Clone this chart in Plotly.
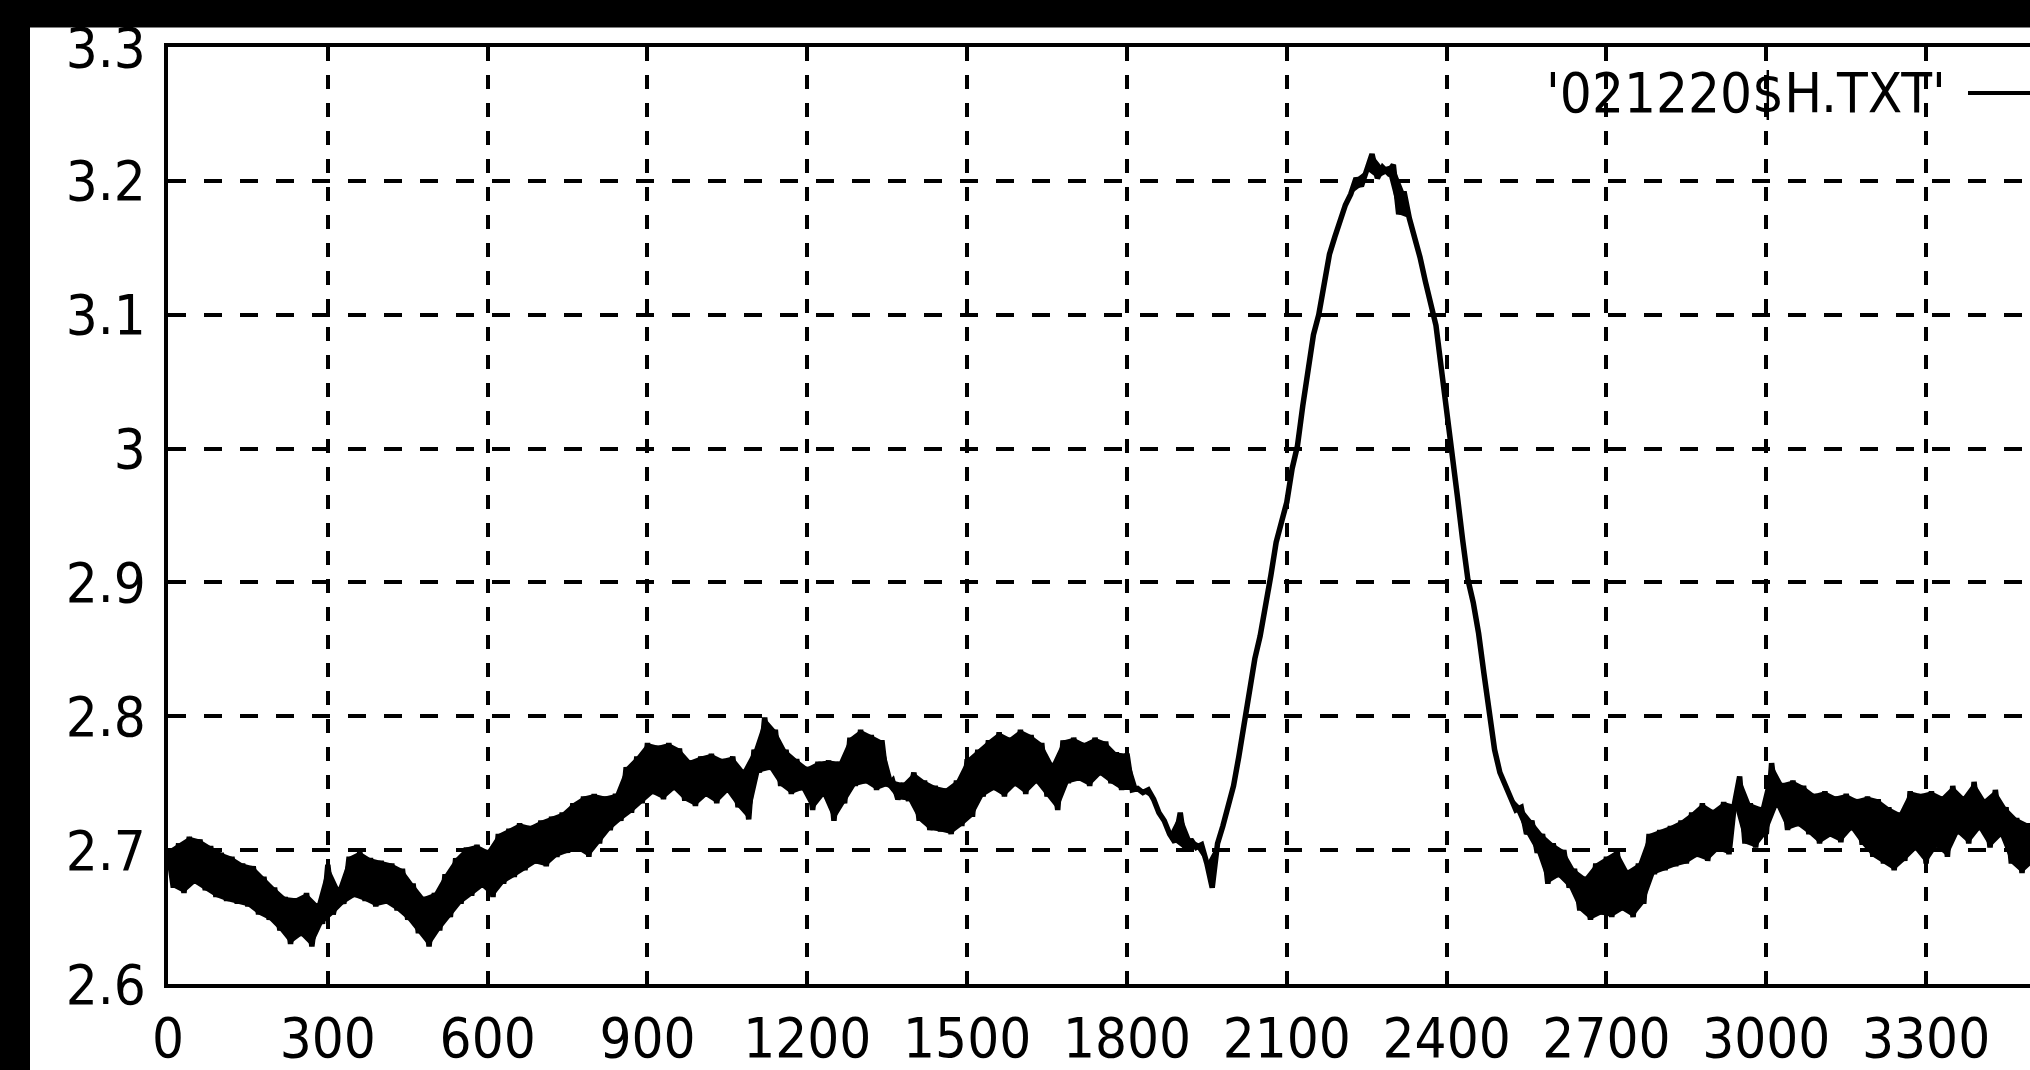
import plotly.graph_objects as go

# sample spacing of the recorded series (x units)
x_step = 10

# signal values, one per 10 x-units, starting at 0
y_values = [
    # 0-90
    2.700, 2.672, 2.705, 2.668, 2.710, 2.675, 2.708, 2.670, 2.703, 2.665,
    # 100-190
    2.698, 2.662, 2.695, 2.660, 2.690, 2.658, 2.688, 2.652, 2.680, 2.648,
    # 200-290
    2.672, 2.640, 2.665, 2.630, 2.664, 2.636, 2.668, 2.628, 2.660, 2.645,
    # 300-390
    2.689, 2.652, 2.672, 2.660, 2.695, 2.665, 2.699, 2.662, 2.694, 2.658,
    # 400-490
    2.692, 2.660, 2.690, 2.655, 2.686, 2.648, 2.675, 2.638, 2.665, 2.628,
    # 500-590
    2.668, 2.640, 2.682, 2.650, 2.694, 2.660, 2.702, 2.666, 2.704, 2.672,
    # 600-690
    2.700, 2.665, 2.712, 2.675, 2.716, 2.680, 2.720, 2.685, 2.718, 2.690,
    # 700-790
    2.722, 2.688, 2.725, 2.695, 2.728, 2.698, 2.735, 2.700, 2.740, 2.695,
    # 800-890
    2.742, 2.705, 2.740, 2.715, 2.742, 2.722, 2.762, 2.728, 2.770, 2.735,
    # 900-990
    2.780, 2.742, 2.778, 2.738, 2.780, 2.745, 2.776, 2.737, 2.767, 2.733,
    # 1000-1090
    2.770, 2.740, 2.772, 2.735, 2.768, 2.743, 2.770, 2.732, 2.760, 2.723,
    # 1100-1190
    2.775, 2.758, 2.799, 2.760, 2.790, 2.748, 2.775, 2.742, 2.768, 2.745,
    # 1200-1290
    2.762, 2.730, 2.766, 2.740, 2.767, 2.722, 2.766, 2.735, 2.784, 2.748,
    # 1300-1390
    2.790, 2.750, 2.786, 2.745, 2.782, 2.748, 2.752, 2.738, 2.750, 2.737,
    # 1400-1490
    2.758, 2.722, 2.752, 2.715, 2.748, 2.714, 2.746, 2.712, 2.752, 2.718,
    # 1500-1590
    2.768, 2.725, 2.775, 2.740, 2.782, 2.745, 2.788, 2.740, 2.784, 2.748,
    # 1600-1690
    2.790, 2.742, 2.786, 2.750, 2.780, 2.740, 2.765, 2.730, 2.782, 2.750,
    # 1700-1790
    2.784, 2.752, 2.780, 2.748, 2.784, 2.756, 2.781, 2.750, 2.773, 2.745,
    # 1800-1890
    2.772, 2.745, 2.746, 2.743, 2.745, 2.738, 2.728, 2.722, 2.712, 2.706,
    # 1900-1990
    2.728, 2.700, 2.708, 2.702, 2.704, 2.690, 2.672, 2.705, 2.718, 2.735,
    # 2000-2090
    2.748, 2.770, 2.795, 2.822, 2.843, 2.860, 2.880, 2.905, 2.930, 2.945,
    # 2100-2190
    2.960, 2.985, 3.002, 3.032, 3.060, 3.085, 3.100, 3.122, 3.145, 3.158,
    # 2200-2290
    3.170, 3.182, 3.190, 3.202, 3.196, 3.208, 3.220, 3.202, 3.210, 3.206,
    # 2300-2390
    3.212, 3.175, 3.192, 3.172, 3.158, 3.143, 3.125, 3.108, 3.092, 3.060,
    # 2400-2490
    3.030, 2.998, 2.965, 2.932, 2.902, 2.885, 2.862, 2.832, 2.802, 2.775,
    # 2500-2590
    2.758, 2.748, 2.740, 2.730, 2.732, 2.712, 2.722, 2.698, 2.712, 2.675,
    # 2600-2690
    2.705, 2.680, 2.700, 2.672, 2.686, 2.655, 2.680, 2.648, 2.690, 2.652,
    # 2700-2790
    2.695, 2.650, 2.700, 2.655, 2.685, 2.650, 2.690, 2.660, 2.712, 2.682,
    # 2800-2890
    2.715, 2.685, 2.718, 2.688, 2.722, 2.690, 2.728, 2.695, 2.735, 2.692,
    # 2900-2990
    2.730, 2.700, 2.736, 2.697, 2.734, 2.755, 2.705, 2.735, 2.702, 2.732,
    # 3000-3090
    2.712, 2.765, 2.732, 2.750, 2.715, 2.752, 2.718, 2.748, 2.712, 2.742,
    # 3100-3190
    2.705, 2.744, 2.710, 2.740, 2.706, 2.742, 2.715, 2.738, 2.704, 2.740,
    # 3200-3290
    2.695, 2.738, 2.690, 2.732, 2.685, 2.728, 2.692, 2.744, 2.700, 2.742,
    # 3300-3390
    2.690, 2.744, 2.702, 2.740, 2.695, 2.748, 2.712, 2.740, 2.705, 2.751,
    # 3400-3490
    2.715, 2.738, 2.702, 2.745, 2.710, 2.732, 2.690, 2.724, 2.683, 2.720,
    # 3500
    2.690,
]
x_values = [i * x_step for i in range(len(y_values))]

series_name = "'021220$H.TXT'"
x_tick_vals = [0, 300, 600, 900, 1200, 1500, 1800, 2100, 2400, 2700, 3000, 3300]
y_tick_vals = [2.6, 2.7, 2.8, 2.9, 3.0, 3.1, 3.2, 3.3]
y_tick_text = ["2.6", "2.7", "2.8", "2.9", "3", "3.1", "3.2", "3.3"]
x_range = [0, 3495]
y_range = [2.6, 3.3]

FONT = "Liberation Sans Narrow, DejaVu Sans Condensed, sans-serif"

fig = go.Figure()
# the dense noise band: the area swept between alternate samples of the series
fig.add_trace(go.Scatter(
    x=x_values[0::2], y=y_values[0::2], mode="lines",
    line=dict(width=0, color="black"), showlegend=False, hoverinfo="skip",
))
fig.add_trace(go.Scatter(
    x=x_values[1::2], y=y_values[1::2], mode="lines", fill="tonexty",
    fillcolor="black", line=dict(width=0, color="black"),
    showlegend=False, hoverinfo="skip",
))
fig.add_trace(go.Scatter(
    x=x_values, y=y_values, mode="lines", name=series_name,
    line=dict(color="black", width=5.5), showlegend=False,
))

W, H = 2030, 1070
L, T, B, R = 168, 47, 65, 0
plot_w = W - L - R
plot_h = H - T - B

fig.update_layout(
    width=W, height=H,
    margin=dict(l=L, r=R, t=T, b=B, pad=0),
    paper_bgcolor="white", plot_bgcolor="white",
    font=dict(family=FONT, size=56, color="black"),
    showlegend=False,
)
fig.update_xaxes(
    range=x_range, tickvals=x_tick_vals, ticktext=[str(v) for v in x_tick_vals],
    showline=True, linecolor="black", linewidth=4, mirror="ticks",
    ticks="inside", ticklen=12, tickwidth=4, tickcolor="black",
    showgrid=True, gridcolor="black", gridwidth=4, griddash="14px,14px",
    zeroline=False, ticklabelstandoff=2,
    tickfont=dict(family=FONT, size=56, color="black"),
)
fig.update_yaxes(
    range=y_range, tickvals=y_tick_vals, ticktext=y_tick_text,
    showline=True, linecolor="black", linewidth=4, mirror=False,
    ticks="inside", ticklen=12, tickwidth=4, tickcolor="black",
    showgrid=True, gridcolor="black", gridwidth=4, griddash="18px,18px",
    zeroline=False, ticklabelstandoff=7,
    tickfont=dict(family=FONT, size=56, color="black"),
)

# black frame bands at the top and left of the picture
top_band_px = 27
left_band_px = 30
fig.add_shape(type="rect", xref="paper", yref="paper", layer="above",
              x0=-1, x1=2, y0=1 + (T - top_band_px) / plot_h, y1=2,
              fillcolor="black", line=dict(width=0))
fig.add_shape(type="rect", xref="paper", yref="paper", layer="above",
              x0=-1, x1=(left_band_px - L) / plot_w, y0=-1, y1=2,
              fillcolor="black", line=dict(width=0))

# gnuplot-style key: title then line sample, top right
key_y = (H - B - 94) / plot_h
fig.add_annotation(xref="paper", yref="paper", x=(1948 - L) / plot_w, y=key_y,
                   xanchor="right", yanchor="middle", showarrow=False,
                   text=series_name, font=dict(family=FONT, size=56, color="black"))
fig.add_shape(type="line", xref="paper", yref="paper",
              x0=(1968 - L) / plot_w, x1=1.05, y0=key_y, y1=key_y,
              line=dict(color="black", width=4))

fig.write_html("out.html")
